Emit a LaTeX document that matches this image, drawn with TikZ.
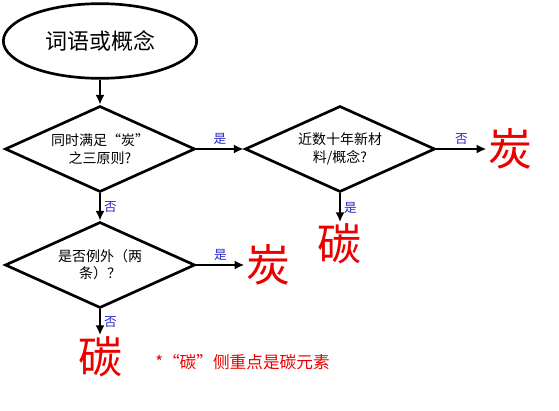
\documentclass[tikz,border=0pt]{standalone}
\usepackage{fontspec}
\setmainfont{Noto Sans CJK SC}
\usepackage{xcolor}
\usetikzlibrary{arrows.meta,positioning,shapes.geometric}
\definecolor{lblblue}{RGB}{40,40,200}
\definecolor{resred}{RGB}{235,0,0}
\tikzset{
  startnode/.style={draw, ellipse, line width=2pt, minimum width=145pt, minimum height=56pt, font=\fontsize{16.5}{18}\selectfont},
  decision/.style={draw, diamond, aspect=2.2, line width=2pt, inner sep=0pt, minimum width=142.5pt, minimum height=64.5pt, align=center, font=\fontsize{10.5}{13}\selectfont},
  result/.style={inner sep=1pt, text=resred, font=\fontsize{33}{35}\selectfont},
  note/.style={inner sep=0pt, text=resred, font=\fontsize{12.5}{14}\selectfont},
  lbl/.style={text=lblblue, inner sep=2pt, font=\fontsize{9.5}{10}\selectfont},
  arr/.style={-{Latex[length=2.6mm,width=2.4mm]}, line width=2pt}
}
\begin{document}
\begin{tikzpicture}[x=0.75pt,y=-0.75pt]
\useasboundingbox (0,0) rectangle (559,410);
\node[startnode] (word) at (100,41) {词语或概念};
\node[decision] (rules) at (100,149) {同时满足“炭”\\之三原则?};
\node[decision] (newmat) at (340,149) {近数十年新材\\料/概念?};
\node[decision] (except) at (100,265) {是否例外（两\\条）？};

\node[result] (tan1) at (510,149) {炭};
\node[result] (carbon1) at (339,244) {碳};
\node[result] (tan2) at (268,265) {炭};
\node[result] (carbon2) at (100,357) {碳};

\node[note,anchor=west] (remark) at (155,362) {*“碳”侧重点是碳元素};

\draw[arr] (word) -- (rules);
\draw[arr] (rules.east) -- node[lbl,above] {是} (newmat.west);
\draw[arr] (newmat.east) -- node[lbl,above] {否} (tan1.west);
\draw[arr] (newmat.south) -- node[lbl,right] {是} (carbon1.north -| newmat.south);
\draw[arr] (rules.south) -- node[lbl,right] {否} (except.north);
\draw[arr] (except.east) -- node[lbl,above] {是} (tan2.west |- except.east);
\draw[arr] (except.south) -- node[lbl,right] {否} (carbon2.north);
\end{tikzpicture}
\end{document}
